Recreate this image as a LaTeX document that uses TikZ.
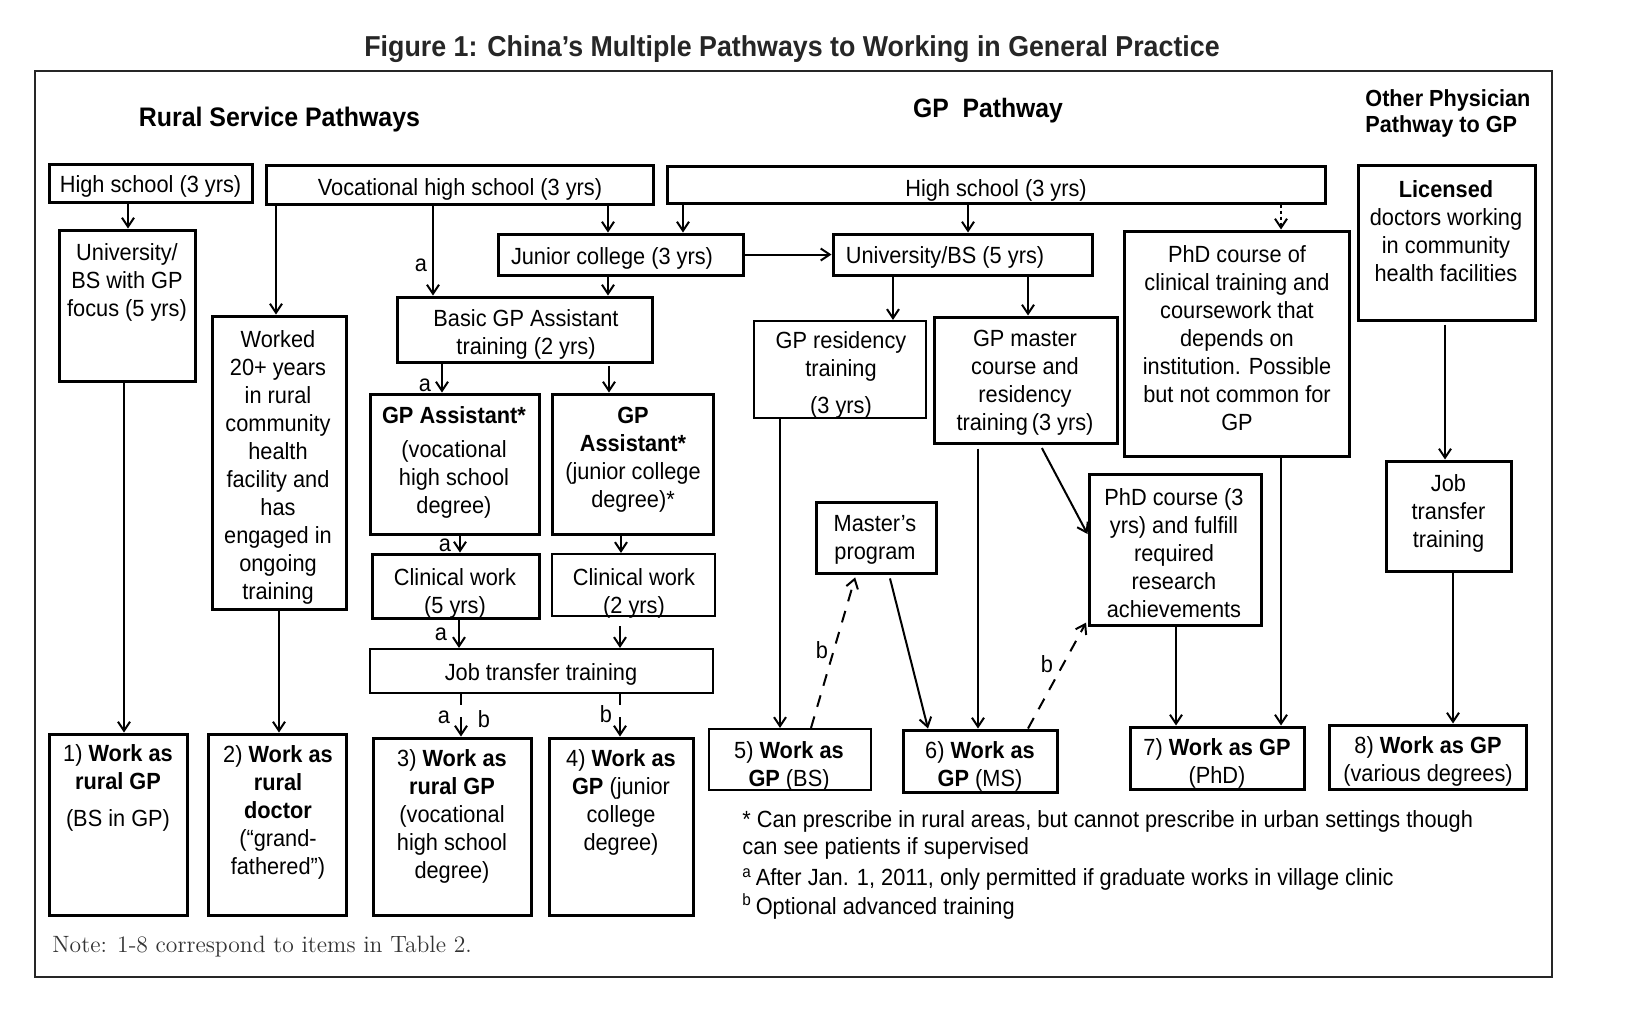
\documentclass[tikz,border=0pt]{standalone}
\usepackage{fontspec}
\setmainfont{Liberation Sans}[FakeStretch=0.93]
\newfontfamily\notefont{Latin Modern Roman}
\usetikzlibrary{arrows.meta}
\newcommand\mkbox[6][]{%
  \pgfmathsetmacro\bxcx{(#3+#5)/2}%
  \pgfmathsetmacro\bxcy{(#4+#6)/2}%
  \pgfmathsetmacro\bxw{(#5-#3)/2}%
  \pgfmathsetmacro\bxh{(#6-#4)/2}%
  \node[box,minimum width=\bxw pt,minimum height=\bxh pt,#1] (#2) at (\bxcx,\bxcy) {};}
\begin{document}
\begin{tikzpicture}[x=0.5pt,y=-0.5pt,
  box/.style={draw,line width=1.5pt,inner sep=0pt,rectangle},
  thinbox/.style={line width=1.05pt},
  txt/.style={align=center,inner sep=0pt,yshift=-1pt,font=\fontsize{11.7}{14}\selectfont},
  lbl/.style={inner sep=0pt,yshift=-1pt,font=\fontsize{11.7}{14}\selectfont},
  foot/.style={inner sep=0pt,anchor=west,yshift=-1.2pt,font=\fontsize{11.7}{14}\selectfont},
  head/.style={inner sep=0pt,yshift=-1.5pt},
  arr/.style={line width=1pt,-{Straight Barb[length=4.5pt,width=6pt,line width=1pt]}},
  dsh/.style={arr,dash pattern=on 6pt off 5pt},
  gapdash/.style={arr,dash pattern=on 5.5pt off 6pt on 30pt},
  dotted arrow/.style={arr,dash pattern=on 1.5pt off 1.5pt}]
\fill[white] (0,0) rectangle (1634,1014);
\useasboundingbox (0,0) rectangle (1634,1014);
\draw[line width=1.2pt,black!85] (35,71) rectangle (1552,977);

% headings
\node[head,font=\fontsize{14.4}{16}\selectfont\bfseries,text=black!85] (title) at (792,46) {Figure 1: China’s Multiple Pathways to Working in General Practice};
\node[head,font=\fontsize{13.4}{16}\selectfont\bfseries] (hrural) at (279.5,117) {Rural Service Pathways};
\node[head,font=\fontsize{13.3}{16}\selectfont\bfseries] (hgp) at (988,108) {GP\ \ Pathway};
\node[head,anchor=west,align=left,font=\fontsize{11.65}{13}\selectfont\bfseries] (hother) at (1365,110) {Other Physician\\Pathway to GP};

% boxes
\mkbox{hs1}{49}{164}{252}{202}
\mkbox{vhs}{266}{165}{653}{204}
\mkbox{hs2}{667}{166}{1325}{203}
\mkbox{lic}{1358}{165}{1535}{320}
\mkbox{uni}{59}{230}{195}{381}
\mkbox{wrk}{212}{316}{346}{609}
\mkbox{jc}{498}{234}{743}{275}
\mkbox{ubs}{833}{234}{1092}{275}
\mkbox{phdc}{1124}{231}{1349}{456}
\mkbox{bgp}{397}{297}{652}{362}
\mkbox[thinbox]{gpr}{754}{321}{926}{418}
\mkbox{gpm}{934}{317}{1117}{443}
\mkbox{ga1}{370}{394}{539}{534}
\mkbox{ga2}{552}{394}{713}{534}
\mkbox{cw1}{372}{554}{539}{618}
\mkbox[thinbox]{cw2}{552}{554}{715}{616}
\mkbox[thinbox]{jtt}{370}{649}{713}{693}
\mkbox{ms}{816}{502}{936}{573}
\mkbox{phd3}{1089}{474}{1261}{625}
\mkbox{jt2}{1386}{461}{1511}{571}
\mkbox{w1}{49}{734}{187}{915}
\mkbox{w2}{208}{734}{346}{915}
\mkbox{w3}{373}{738}{531}{915}
\mkbox{w4}{549}{738}{693}{915}
\mkbox[thinbox]{w5}{709}{729}{871}{790}
\mkbox{w6}{903}{730}{1057}{792}
\mkbox{w7}{1130}{727}{1304}{789}
\mkbox{w8}{1329}{725}{1526}{789}

% box texts
\node[txt] (hs1-t) at (150.5,184.5) {High school (3 yrs)};
\node[txt] (vhs-t) at (460,187.6) {Vocational high school (3 yrs)};
\node[txt] (hs2-t) at (996,188.6) {High school (3 yrs)};
\node[txt] (lic-t) at (1446,229) {\textbf{Licensed}\\doctors working\\in community\\health facilities};
\node[txt] (uni-t) at (127,280) {University/\\BS with GP\\focus (5 yrs)};
\node[txt] (wrk-t) at (278,465) {Worked\\20+ years\\in rural\\community\\health\\facility and\\has\\engaged in\\ongoing\\training};
\node[txt] (jc-t) at (612,256) {Junior college (3 yrs)};
\node[txt] (ubs-t) at (945,255) {University/BS (5 yrs)};
\node[txt] (phdc-t) at (1237,336) {PhD course of\\clinical training and\\coursework that\\depends on\\institution. Possible\\but not common for\\GP};
\node[txt] (bgp-t) at (526,332) {Basic GP Assistant\\training (2 yrs)};
\node[txt] (gpr-t) at (841,372.5) {GP residency\\training\\[4.5pt](3 yrs)};
\node[txt] (gpm-t) at (1025,381) {GP master\\course and\\residency\\training\,(3 yrs)};
\node[txt] (ga1-t) at (454,460.5) {\textbf{GP Assistant*}\\[3pt](vocational\\high school\\degree)};
\node[txt] (ga2-t) at (633,458) {\textbf{GP}\\\textbf{Assistant*}\\(junior college\\degree)*};
\node[txt] (cw1-t) at (455,591) {Clinical work\\(5 yrs)};
\node[txt] (cw2-t) at (634,591) {Clinical work\\(2 yrs)};
\node[txt] (jtt-t) at (541,672) {Job transfer training};
\node[txt] (ms-t) at (875,538) {Master’s\\program};
\node[txt] (phd3-t) at (1174,551) {PhD course (3\\yrs) and fulfill\\required\\research\\achievements};
\node[txt] (jt2-t) at (1448.5,511) {Job\\transfer\\training};
\node[txt] (w1-t) at (118,785.5) {1) \textbf{Work as}\\\textbf{rural GP}\\[4.5pt](BS in GP)};
\node[txt] (w2-t) at (278,810.5) {2) \textbf{Work as}\\\textbf{rural}\\\textbf{doctor}\\(“grand-\\fathered”)};
\node[txt] (w3-t) at (452,814.5) {3) \textbf{Work as}\\\textbf{rural GP}\\(vocational\\high school\\degree)};
\node[txt] (w4-t) at (621,800.5) {4) \textbf{Work as}\\\textbf{GP} (junior\\college\\degree)};
\node[txt] (w5-t) at (789,764) {5) \textbf{Work as}\\\textbf{GP} (BS)};
\node[txt] (w6-t) at (980,764) {6) \textbf{Work as}\\\textbf{GP} (MS)};
\node[txt] (w7-t) at (1217,761) {7) \textbf{Work as GP}\\(PhD)};
\node[txt] (w8-t) at (1428,759.5) {8) \textbf{Work as GP}\\(various degrees)};

% connectors
\draw[arr] (hs1.south -| 128,0) -- (uni.north -| 128,0);
\draw[arr] (uni.south -| 124,0) -- (w1.north -| 124,0);
\draw[arr] (vhs.south -| 276,0) -- (wrk.north -| 276,0);
\draw[arr] (wrk.south -| 279,0) -- (w2.north -| 279,0);
\draw[arr] (vhs.south -| 433,0) -- (bgp.north -| 433,0);
\draw[arr] (vhs.south -| 608,0) -- (jc.north -| 608,0);
\draw[arr] (hs2.south -| 683,0) -- (jc.north -| 683,0);
\draw[arr] (jc.east) -- (ubs.west);
\draw[arr] (hs2.south -| 968,0) -- (ubs.north -| 968,0);
\draw[dotted arrow] (hs2.south -| 1281,0) -- (phdc.north -| 1281,0);
\draw[arr] (jc.south -| 608,0) -- (bgp.north -| 608,0);
\draw[arr] (ubs.south -| 893,0) -- (gpr.north -| 893,0);
\draw[arr] (ubs.south -| 1028,0) -- (gpm.north -| 1028,0);
\draw[arr] (bgp.south -| 442,0) -- (ga1.north -| 442,0);
\draw[arr,shorten <=1pt] (bgp.south -| 609,0) -- (ga2.north -| 609,0);
\draw[arr] (ga1.south -| 460,0) -- (cw1.north -| 460,0);
\draw[arr] (ga2.south -| 621,0) -- (cw2.north -| 621,0);
\draw[arr] (cw1.south -| 459,0) -- (jtt.north -| 459,0);
\draw[arr,shorten <=4.5pt] (cw2.south -| 620,0) -- (jtt.north -| 620,0);
\draw[gapdash] (jtt.south -| 461,0) -- (w3.north -| 461,0);
\draw[gapdash] (jtt.south -| 620,0) -- (w4.north -| 620,0);
\draw[arr] (gpr.south -| 780,0) -- (w5.north -| 780,0);
\draw[dsh,shorten >=1.5pt] (w5.north -| 811,0) -- (ms.south -| 856,0);
\draw[arr,shorten <=2pt] (ms.south -| 889,0) -- (w6.north -| 928,0);
\draw[arr,shorten <=2pt] (gpm.south -| 978,0) -- (w6.north -| 978,0);
\draw[arr,shorten <=2pt] (gpm.south -| 1040,0) -- (phd3.west |- 0,534);
\draw[dsh,shorten >=1.5pt] (w6.north -| 1028,0) -- (phd3.west |- 0,620);
\draw[arr] (phd3.south -| 1176,0) -- (w7.north -| 1176,0);
\draw[arr] (phdc.south -| 1281,0) -- (w7.north -| 1281,0);
\draw[arr,shorten <=1.5pt] (lic.south -| 1445,0) -- (jt2.north -| 1445,0);
\draw[arr] (jt2.south -| 1453,0) -- (w8.north -| 1453,0);

% connector labels
\node[lbl] (la1) at (421,263) {a};
\node[lbl] (la2) at (425,383) {a};
\node[lbl] (la3) at (445,543) {a};
\node[lbl] (la4) at (441,632) {a};
\node[lbl] (la5) at (444,715) {a};
\node[lbl] (lb1) at (484,717) {b};
\node[lbl] (lb2) at (606,712) {b};
\node[lbl] (lb3) at (822,648) {b};
\node[lbl] (lb4) at (1047,662) {b};

% footnotes
\node[foot] (f1) at (742,819) {* Can prescribe in rural areas, but cannot prescribe in urban settings though};
\node[foot] (f2) at (742,846) {can see patients if supervised};
\node[foot] (f3) at (742,877) {\textsuperscript{a}\,After Jan. 1, 2011, only permitted if graduate works in village clinic};
\node[foot] (f4) at (742,904) {\textsuperscript{b}\,Optional advanced training};
\node[inner sep=0pt,anchor=west,font=\notefont\fontsize{11.8}{14}\selectfont,text=black!80] (note) at (52,947) {Note: 1-8 correspond to items in Table 2.};
\end{tikzpicture}
\end{document}
